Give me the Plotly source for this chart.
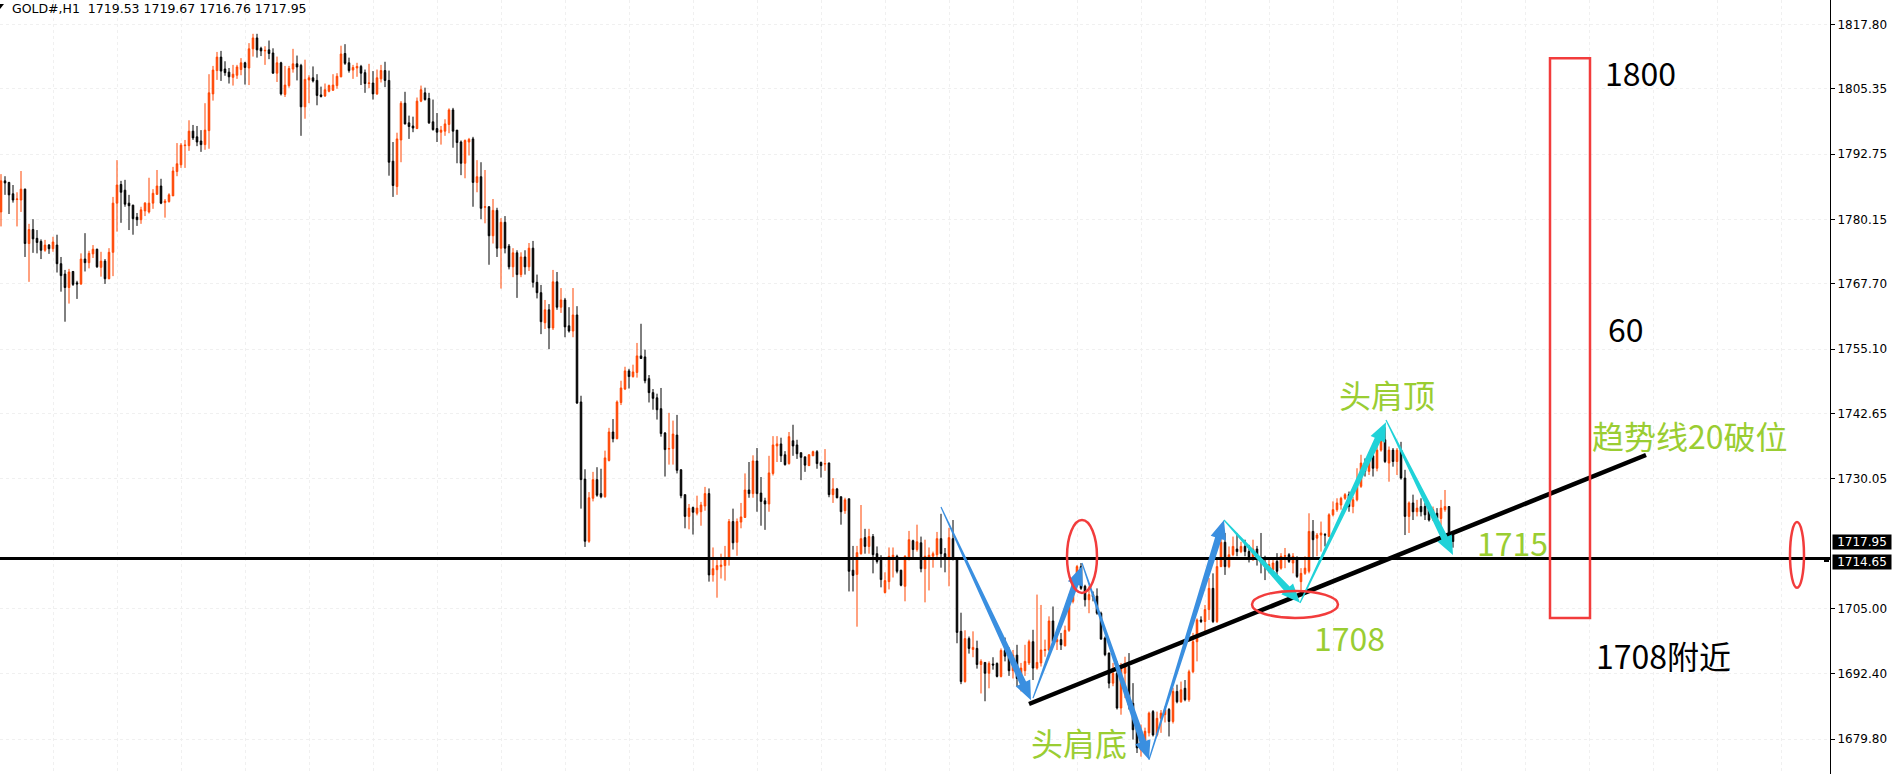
import plotly.graph_objects as go

# ---------------- data (GOLD#, H1) ----------------
open_ = [
    1781.6, 1787.6, 1787.3, 1785.1, 1784.0, 1783.9, 1786.0, 1775.5, 1778.2, 1776.5,
    1775.9, 1774.2, 1775.2, 1774.5, 1775.2, 1771.6, 1769.6, 1767.0, 1770.1, 1767.9,
    1767.7, 1772.5, 1771.8, 1773.5, 1774.4, 1770.9, 1772.1, 1768.7, 1773.8, 1783.3,
    1786.9, 1785.8, 1783.3, 1782.9, 1780.6, 1780.1, 1781.8, 1781.6, 1783.3, 1785.0,
    1786.6, 1783.4, 1783.6, 1784.7, 1789.4, 1790.7, 1794.4, 1794.4, 1797.2, 1796.1,
    1795.3, 1794.6, 1797.3, 1804.4, 1808.9, 1811.5, 1809.2, 1808.6, 1807.6, 1808.0,
    1809.1, 1810.4, 1809.4, 1813.1, 1815.2, 1813.2, 1812.7, 1812.9, 1812.3, 1808.4,
    1810.4, 1804.3, 1806.0, 1809.2, 1810.2, 1809.9, 1801.9, 1807.1, 1807.5, 1807.0,
    1804.2, 1804.0, 1804.9, 1805.1, 1806.0, 1807.7, 1812.2, 1810.4, 1809.0, 1809.4,
    1809.7, 1808.5, 1806.4, 1806.5, 1804.4, 1807.3, 1808.9, 1807.0, 1791.4, 1786.5,
    1795.5, 1802.6, 1798.8, 1798.2, 1797.7, 1803.0, 1804.6, 1803.5, 1799.0, 1797.7,
    1797.0, 1797.2, 1798.5, 1801.3, 1797.4, 1795.1, 1791.0, 1795.1, 1795.7, 1787.3,
    1788.4, 1782.5, 1782.6, 1777.0, 1781.9, 1774.6, 1779.6, 1775.0, 1771.0, 1773.7,
    1769.5, 1772.9, 1771.0, 1774.6, 1768.0, 1766.0, 1760.2, 1762.7, 1759.2, 1768.1,
    1763.2, 1764.6, 1759.6, 1758.6, 1761.7, 1744.9, 1730.0, 1718.0, 1726.3, 1729.9,
    1727.2, 1726.6, 1733.6, 1739.1, 1737.8, 1744.8, 1747.4, 1750.9, 1749.8, 1750.6,
    1753.8, 1753.6, 1749.4, 1746.7, 1745.7, 1743.6, 1738.9, 1735.8, 1735.9, 1738.5,
    1731.8, 1727.0, 1722.8, 1724.5, 1723.4, 1723.7, 1724.8, 1727.2, 1711.5, 1712.5,
    1713.1, 1713.3, 1714.7, 1721.8, 1717.8, 1721.7, 1722.6, 1727.9, 1727.2, 1733.5,
    1727.3, 1725.8, 1725.2, 1731.1, 1736.4, 1736.8, 1734.7, 1733.0, 1737.4, 1736.6,
    1735.1, 1734.3, 1732.6, 1734.5, 1735.3, 1733.2, 1732.9, 1733.1, 1727.0, 1728.1,
    1726.6, 1723.9, 1726.2, 1712.4, 1711.6, 1715.6, 1718.7, 1717.0, 1718.9, 1715.6,
    1714.5, 1708.1, 1710.2, 1714.9, 1715.1, 1712.4, 1709.3, 1714.7, 1718.1, 1716.4,
    1717.7, 1712.7, 1714.9, 1715.1, 1715.4, 1718.5, 1715.6, 1714.5, 1718.5, 1714.7,
    1700.6, 1690.9, 1699.2, 1697.1, 1697.3, 1694.2, 1694.6, 1692.5, 1694.3, 1694.4,
    1691.9, 1696.9, 1695.8, 1693.0, 1696.0, 1691.5, 1693.0, 1694.5, 1698.6, 1693.5,
    1694.5, 1696.9, 1697.0, 1702.6, 1698.6, 1699.0, 1697.8, 1700.8, 1706.4, 1709.9,
    1713.1, 1709.3, 1706.7, 1707.7, 1707.4, 1704.1, 1699.3, 1696.4, 1690.6, 1692.5,
    1685.8, 1692.5, 1693.8, 1686.7, 1681.9, 1677.7, 1678.1, 1681.0, 1685.1, 1680.6,
    1683.8, 1684.5, 1685.5, 1683.2, 1689.0, 1687.0, 1689.6, 1687.4, 1692.8, 1698.6,
    1702.8, 1702.5, 1704.8, 1708.9, 1702.5, 1713.1, 1717.8, 1713.1, 1715.4, 1716.5,
    1716.0, 1717.0, 1716.0, 1714.9, 1716.5, 1714.6, 1713.9, 1712.5, 1712.5, 1714.1,
    1712.8, 1715.1, 1715.4, 1713.8, 1714.4, 1710.2, 1711.8, 1712.2, 1719.9, 1718.6,
    1719.2, 1719.3, 1718.9, 1723.1, 1724.1, 1725.0, 1726.3, 1727.0, 1724.7, 1726.0,
    1728.6, 1733.1, 1731.5, 1734.5, 1732.1, 1735.6, 1737.6, 1733.1, 1735.6, 1733.4,
    1735.6, 1730.2, 1722.8, 1725.4, 1723.7, 1724.7, 1724.7, 1724.1, 1722.4, 1723.4,
    1722.4, 1724.1, 1724.7, 1719.53,
]
high = [
    1788.9, 1788.5, 1787.4, 1786.8, 1785.4, 1789.5, 1786.1, 1779.3, 1780.2, 1778.1,
    1776.3, 1776.2, 1775.4, 1776.8, 1777.2, 1772.9, 1770.4, 1770.6, 1770.2, 1768.3,
    1773.6, 1777.5, 1774.1, 1775.2, 1774.5, 1773.9, 1772.5, 1774.6, 1784.5, 1791.6,
    1787.6, 1787.8, 1784.9, 1783.0, 1781.4, 1782.6, 1783.5, 1788.2, 1786.0, 1789.7,
    1788.0, 1784.1, 1785.2, 1790.3, 1794.9, 1794.9, 1795.5, 1799.3, 1798.4, 1798.2,
    1797.4, 1802.6, 1808.2, 1809.8, 1812.5, 1812.7, 1810.7, 1809.4, 1810.0, 1810.0,
    1811.3, 1810.6, 1814.2, 1816.0, 1816.0, 1813.5, 1813.6, 1814.7, 1813.2, 1811.6,
    1810.6, 1809.8, 1809.8, 1813.1, 1811.8, 1810.2, 1811.0, 1808.0, 1809.7, 1808.2,
    1805.8, 1806.4, 1806.2, 1808.2, 1808.4, 1813.7, 1814.0, 1811.4, 1810.0, 1810.4,
    1810.0, 1809.1, 1810.2, 1808.8, 1809.1, 1810.0, 1810.6, 1808.9, 1795.1, 1796.9,
    1803.0, 1804.8, 1800.2, 1800.0, 1803.7, 1806.0, 1805.6, 1804.6, 1803.3, 1800.7,
    1798.2, 1799.5, 1801.6, 1801.7, 1797.4, 1795.4, 1795.6, 1795.9, 1796.1, 1791.6,
    1791.2, 1789.7, 1782.7, 1784.1, 1782.4, 1780.4, 1780.8, 1775.4, 1774.6, 1774.2,
    1773.8, 1774.2, 1775.6, 1776.0, 1769.5, 1767.5, 1764.6, 1763.8, 1770.4, 1770.0,
    1766.9, 1765.0, 1763.2, 1766.9, 1763.4, 1746.1, 1731.9, 1727.5, 1731.4, 1732.3,
    1732.0, 1735.5, 1739.9, 1741.6, 1745.2, 1749.0, 1751.7, 1751.3, 1752.1, 1756.3,
    1760.0, 1755.0, 1750.1, 1747.4, 1746.5, 1747.6, 1739.1, 1742.8, 1741.3, 1742.4,
    1731.9, 1727.0, 1725.2, 1724.7, 1726.8, 1725.6, 1728.5, 1728.2, 1716.8, 1714.8,
    1715.6, 1717.1, 1722.3, 1724.3, 1722.4, 1725.4, 1731.1, 1733.3, 1734.6, 1736.0,
    1730.4, 1726.4, 1734.5, 1738.3, 1738.3, 1738.0, 1735.4, 1739.1, 1740.5, 1737.6,
    1735.1, 1734.3, 1734.8, 1735.5, 1735.6, 1733.4, 1735.8, 1733.2, 1730.2, 1728.3,
    1726.6, 1726.4, 1726.2, 1717.1, 1717.1, 1725.0, 1720.4, 1720.4, 1719.4, 1717.0,
    1715.3, 1712.0, 1716.8, 1716.8, 1715.4, 1712.5, 1715.3, 1720.0, 1718.3, 1721.2,
    1718.9, 1718.3, 1716.8, 1716.0, 1719.8, 1723.3, 1716.7, 1720.6, 1722.1, 1714.7,
    1704.2, 1700.8, 1699.6, 1700.6, 1698.8, 1695.2, 1694.6, 1694.8, 1695.6, 1694.6,
    1697.3, 1699.4, 1697.5, 1697.0, 1698.0, 1694.5, 1698.0, 1699.0, 1700.9, 1707.7,
    1705.7, 1699.0, 1703.5, 1705.4, 1700.6, 1700.3, 1701.7, 1707.7, 1710.5, 1713.4,
    1713.8, 1709.6, 1709.3, 1708.3, 1708.9, 1704.4, 1699.6, 1696.5, 1694.5, 1694.8,
    1694.5, 1695.7, 1696.4, 1690.6, 1682.9, 1682.6, 1682.0, 1685.1, 1685.4, 1685.1,
    1685.4, 1686.1, 1685.8, 1689.7, 1690.3, 1690.9, 1691.2, 1693.2, 1700.3, 1703.1,
    1703.5, 1705.7, 1710.9, 1711.8, 1714.7, 1719.2, 1719.6, 1717.0, 1718.9, 1719.6,
    1717.9, 1718.3, 1717.3, 1718.3, 1717.1, 1719.6, 1715.2, 1714.4, 1714.4, 1715.7,
    1715.7, 1716.7, 1715.7, 1715.7, 1715.1, 1712.8, 1715.1, 1723.4, 1722.1, 1719.6,
    1721.8, 1719.6, 1723.4, 1725.7, 1726.3, 1726.6, 1727.3, 1727.6, 1726.6, 1732.1,
    1734.7, 1734.0, 1735.2, 1736.0, 1736.3, 1738.9, 1740.0, 1736.3, 1736.0, 1736.0,
    1737.2, 1731.8, 1725.7, 1727.0, 1726.0, 1726.3, 1725.4, 1724.7, 1724.7, 1724.4,
    1726.0, 1727.9, 1724.8, 1719.67,
]
low = [
    1778.8, 1784.9, 1781.2, 1783.4, 1778.8, 1781.6, 1772.9, 1768.1, 1773.7, 1773.6,
    1772.5, 1773.9, 1773.5, 1773.9, 1769.9, 1766.2, 1760.4, 1763.9, 1767.3, 1764.8,
    1767.5, 1770.1, 1770.7, 1772.7, 1770.8, 1769.1, 1767.7, 1768.6, 1769.2, 1777.8,
    1779.5, 1782.6, 1778.1, 1777.2, 1778.9, 1779.3, 1780.8, 1781.3, 1782.2, 1784.9,
    1783.1, 1780.5, 1783.4, 1784.7, 1788.5, 1790.1, 1790.1, 1793.4, 1795.5, 1794.3,
    1793.2, 1793.6, 1793.8, 1803.1, 1807.1, 1806.9, 1807.9, 1806.4, 1806.0, 1807.3,
    1808.0, 1806.2, 1806.1, 1811.6, 1811.4, 1811.7, 1810.0, 1811.1, 1808.3, 1806.7,
    1804.1, 1803.8, 1805.6, 1808.5, 1807.0, 1796.3, 1799.6, 1802.6, 1806.6, 1802.2,
    1803.7, 1803.8, 1804.7, 1805.0, 1805.4, 1807.6, 1810.0, 1808.5, 1807.3, 1807.7,
    1806.1, 1804.6, 1805.5, 1803.3, 1804.2, 1806.6, 1805.7, 1788.6, 1784.5, 1784.9,
    1791.2, 1798.5, 1795.7, 1797.0, 1797.6, 1802.8, 1803.1, 1798.6, 1797.3, 1795.1,
    1794.6, 1796.3, 1796.8, 1794.0, 1791.0, 1788.7, 1788.1, 1792.5, 1782.6, 1785.4,
    1780.2, 1779.4, 1771.4, 1775.5, 1772.9, 1766.8, 1773.6, 1770.5, 1769.0, 1765.0,
    1769.0, 1769.5, 1770.2, 1767.0, 1764.9, 1758.0, 1759.0, 1755.1, 1758.8, 1762.7,
    1762.1, 1757.4, 1758.3, 1757.4, 1744.5, 1724.3, 1716.9, 1717.7, 1725.7, 1726.6,
    1726.3, 1726.4, 1733.4, 1737.1, 1737.7, 1744.3, 1747.2, 1747.5, 1749.6, 1749.6,
    1753.2, 1748.5, 1744.8, 1743.4, 1741.5, 1738.2, 1730.5, 1732.8, 1732.8, 1731.1,
    1726.3, 1720.5, 1720.3, 1719.3, 1723.0, 1721.0, 1723.9, 1710.2, 1710.2, 1707.1,
    1710.8, 1710.4, 1713.3, 1716.4, 1715.2, 1720.5, 1722.5, 1726.4, 1726.4, 1723.7,
    1721.0, 1720.2, 1723.7, 1730.7, 1733.3, 1733.3, 1732.6, 1732.8, 1734.5, 1733.9,
    1729.8, 1731.4, 1732.6, 1734.5, 1732.0, 1730.3, 1731.6, 1726.5, 1725.4, 1726.3,
    1721.2, 1723.3, 1708.3, 1708.3, 1701.5, 1715.4, 1715.6, 1715.6, 1711.8, 1713.7,
    1709.1, 1707.9, 1708.7, 1711.0, 1711.8, 1709.3, 1706.4, 1714.3, 1714.7, 1716.0,
    1712.0, 1706.2, 1708.5, 1712.9, 1714.7, 1712.9, 1712.0, 1709.3, 1714.3, 1698.3,
    1690.4, 1690.7, 1696.3, 1695.6, 1693.4, 1688.6, 1687.1, 1689.6, 1693.2, 1691.7,
    1691.7, 1694.8, 1692.0, 1691.5, 1690.0, 1689.0, 1692.0, 1694.1, 1691.2, 1693.2,
    1693.8, 1695.7, 1696.7, 1698.3, 1697.0, 1697.0, 1697.7, 1700.5, 1706.0, 1709.6,
    1708.6, 1705.4, 1704.1, 1706.4, 1703.8, 1699.0, 1695.8, 1689.6, 1690.0, 1685.5,
    1684.5, 1687.7, 1685.5, 1679.7, 1677.1, 1676.4, 1677.5, 1680.3, 1680.3, 1680.3,
    1681.0, 1683.0, 1680.3, 1682.8, 1686.7, 1686.8, 1687.1, 1687.0, 1692.5, 1694.8,
    1702.2, 1700.3, 1702.8, 1702.2, 1702.2, 1713.0, 1711.5, 1712.8, 1715.1, 1715.1,
    1715.7, 1715.1, 1713.9, 1714.2, 1713.3, 1711.8, 1710.5, 1711.8, 1711.2, 1711.2,
    1712.5, 1712.8, 1713.8, 1711.8, 1710.9, 1708.0, 1711.5, 1711.8, 1714.4, 1715.1,
    1716.0, 1717.0, 1718.9, 1722.8, 1723.7, 1724.1, 1726.0, 1723.7, 1723.4, 1725.7,
    1728.3, 1730.5, 1730.8, 1730.5, 1731.5, 1735.3, 1733.1, 1729.5, 1732.4, 1730.8,
    1729.9, 1719.2, 1719.6, 1722.1, 1722.8, 1722.8, 1722.1, 1721.8, 1721.9, 1721.5,
    1720.8, 1723.7, 1718.9, 1716.76,
]
close = [
    1787.6, 1787.2, 1784.9, 1783.9, 1784.1, 1786.0, 1775.5, 1778.2, 1776.4, 1775.7,
    1774.2, 1775.2, 1774.5, 1775.8, 1771.6, 1769.3, 1767.0, 1770.0, 1767.6, 1767.7,
    1772.5, 1771.8, 1773.6, 1774.4, 1771.0, 1772.1, 1768.7, 1773.8, 1783.3, 1786.8,
    1785.4, 1783.1, 1782.8, 1780.3, 1780.1, 1782.0, 1783.3, 1783.3, 1785.2, 1786.6,
    1783.3, 1783.7, 1784.9, 1789.5, 1790.9, 1794.5, 1794.5, 1797.2, 1795.9, 1795.1,
    1794.6, 1797.4, 1804.6, 1809.0, 1811.5, 1808.8, 1808.5, 1807.7, 1808.2, 1809.6,
    1810.4, 1809.5, 1813.1, 1815.2, 1812.9, 1812.7, 1812.8, 1812.2, 1808.4, 1810.4,
    1804.4, 1806.1, 1809.3, 1810.2, 1809.6, 1801.9, 1807.2, 1807.5, 1806.9, 1804.1,
    1803.9, 1805.2, 1806.0, 1806.1, 1807.8, 1812.1, 1810.3, 1808.9, 1809.5, 1809.7,
    1808.4, 1806.4, 1806.5, 1804.4, 1807.5, 1808.9, 1807.0, 1791.2, 1786.7, 1795.7,
    1802.6, 1798.6, 1798.1, 1797.8, 1803.0, 1805.2, 1803.3, 1798.8, 1797.5, 1797.0,
    1797.4, 1798.6, 1801.3, 1797.2, 1795.0, 1791.0, 1795.4, 1795.6, 1787.3, 1788.4,
    1782.3, 1782.6, 1777.0, 1781.9, 1774.6, 1779.6, 1774.6, 1771.0, 1773.7, 1769.5,
    1772.9, 1771.0, 1774.6, 1768.0, 1766.0, 1760.4, 1762.7, 1759.2, 1768.1, 1763.2,
    1764.6, 1759.4, 1758.6, 1761.7, 1744.7, 1729.9, 1718.0, 1726.4, 1729.9, 1726.9,
    1726.6, 1734.1, 1739.1, 1737.8, 1744.9, 1747.6, 1750.9, 1749.8, 1750.7, 1753.8,
    1753.3, 1749.0, 1746.7, 1745.6, 1743.4, 1738.8, 1735.7, 1735.9, 1738.7, 1731.7,
    1726.8, 1722.8, 1724.4, 1723.6, 1724.4, 1725.0, 1727.2, 1711.5, 1712.7, 1713.3,
    1713.4, 1714.8, 1721.8, 1717.7, 1721.8, 1722.7, 1727.9, 1727.2, 1733.5, 1727.2,
    1725.7, 1725.2, 1731.2, 1736.6, 1736.8, 1734.5, 1732.8, 1738.2, 1736.4, 1734.9,
    1734.2, 1732.7, 1734.7, 1735.3, 1733.0, 1732.6, 1733.0, 1727.0, 1728.1, 1726.4,
    1723.7, 1726.0, 1712.2, 1711.4, 1715.8, 1718.5, 1717.0, 1718.9, 1715.4, 1714.1,
    1710.6, 1710.4, 1715.1, 1715.3, 1712.2, 1709.5, 1715.1, 1718.3, 1716.4, 1717.9,
    1712.7, 1715.1, 1715.3, 1715.6, 1718.5, 1715.6, 1714.7, 1718.7, 1714.5, 1700.4,
    1690.9, 1699.2, 1697.3, 1697.5, 1694.2, 1694.8, 1692.5, 1694.4, 1694.1, 1691.9,
    1696.9, 1695.8, 1693.0, 1696.0, 1691.5, 1693.5, 1694.8, 1698.6, 1693.5, 1694.6,
    1697.0, 1697.1, 1702.6, 1698.6, 1699.0, 1698.0, 1700.8, 1706.4, 1709.9, 1713.1,
    1708.9, 1706.7, 1707.7, 1707.3, 1704.1, 1699.1, 1696.1, 1690.6, 1692.5, 1685.8,
    1693.5, 1693.8, 1686.4, 1681.6, 1678.1, 1679.3, 1681.3, 1684.8, 1680.6, 1683.8,
    1684.8, 1685.5, 1683.2, 1689.0, 1687.0, 1689.3, 1687.4, 1692.8, 1698.6, 1702.8,
    1702.5, 1704.8, 1708.9, 1702.5, 1713.1, 1717.8, 1713.1, 1715.4, 1717.0, 1716.0,
    1717.0, 1716.0, 1714.9, 1716.5, 1714.6, 1713.9, 1713.1, 1713.5, 1713.8, 1712.2,
    1715.1, 1715.2, 1714.1, 1715.1, 1711.2, 1711.8, 1712.8, 1719.9, 1718.3, 1719.2,
    1719.6, 1719.2, 1723.1, 1724.1, 1725.4, 1726.3, 1727.0, 1724.7, 1726.0, 1728.6,
    1733.1, 1731.5, 1734.5, 1732.1, 1735.6, 1737.6, 1733.4, 1735.6, 1733.4, 1735.6,
    1730.2, 1722.8, 1725.4, 1723.7, 1724.4, 1723.7, 1723.1, 1722.1, 1724.1, 1722.4,
    1724.4, 1724.7, 1719.2, 1717.95,
]

price_ticks = [1817.80, 1805.35, 1792.75, 1780.15, 1767.70, 1755.10,
               1742.65, 1730.05, 1705.00, 1692.40, 1679.80]
symbol = "GOLD#,H1"
last_ohlc = [1719.53, 1719.67, 1716.76, 1717.95]
support_level = 1714.65

# ---------------- geometry helpers ----------------
W, H = 1893, 774
PW = 1830                      # plot width in px (axis line at right)
X0, X1 = -0.25, -0.25 + PW / 4.0
Y0, Y1 = 1673.05, 1822.53

def to_px(x, y):
    return (x - X0) / (X1 - X0) * PW, (Y1 - y) / (Y1 - Y0) * H

def to_data(px, py):
    return X0 + px / PW * (X1 - X0), Y1 - py / H * (Y1 - Y0)

def arrow_path(xa, ya, xb, yb, w0=0.6, w1=3.4, hw=8.0, hl=19.0):
    ax, ay = to_px(xa, ya)
    bx, by = to_px(xb, yb)
    dx, dy = bx - ax, by - ay
    L = (dx * dx + dy * dy) ** 0.5
    ux, uy = dx / L, dy / L
    nx, ny = -uy, ux
    cx, cy = bx - ux * hl, by - uy * hl
    pts = [(ax + nx * w0, ay + ny * w0), (cx + nx * w1, cy + ny * w1),
           (cx + nx * hw, cy + ny * hw), (bx, by),
           (cx - nx * hw, cy - ny * hw), (cx - nx * w1, cy - ny * w1),
           (ax - nx * w0, ay - ny * w0)]
    d = [to_data(px, py) for px, py in pts]
    return "M " + " L ".join(f"{x:.4f},{y:.4f}" for x, y in d) + " Z"

idx = list(range(len(open_)))

fig = go.Figure()
fig.add_trace(go.Candlestick(
    x=idx, open=open_, high=high, low=low, close=close,
    increasing=dict(line=dict(color="#FF4500", width=1), fillcolor="#FF4500"),
    decreasing=dict(line=dict(color="#000000", width=1), fillcolor="#000000"),
    whiskerwidth=0, hoverinfo="skip", showlegend=False,
))

shapes = []
RED = "#F23C3C"
BLUE = "#3A8FE0"
CYAN = "#20D2D8"
GREEN = "#9ACD32"

# horizontal level line
shapes.append(dict(type="line", xref="paper", x0=0, x1=1, yref="y",
                   y0=support_level, y1=support_level,
                   line=dict(color="black", width=3)))
# small marker at the axis end
mx0, my0 = to_data(1824, 557)
mx1, my1 = to_data(1829, 562)
shapes.append(dict(type="rect", xref="x", yref="y", x0=mx0, x1=mx1, y0=my0, y1=my1,
                   fillcolor="black", line=dict(width=0)))

# trend line
shapes.append(dict(type="line", xref="x", yref="y", x0=257.0, y0=1686.57,
                   x1=411.25, y1=1734.66, line=dict(color="black", width=4.5)))

# pattern arrows
blue_arrows = [
    (235.0, 1724.6, 257.5, 1687.3),
    (258.0, 1687.7, 270.25, 1713.2),
    (270.25, 1713.8, 287.0, 1675.8),
    (287.0, 1675.8, 305.75, 1722.1),
]
cyan_arrows = [
    (305.75, 1722.1, 324.75, 1706.1),
    (324.75, 1706.1, 346.25, 1741.0),
    (346.25, 1741.4, 363.0, 1715.35),
]
for a in blue_arrows:
    shapes.append(dict(type="path", xref="x", yref="y", path=arrow_path(*a),
                       fillcolor=BLUE, line=dict(width=0)))
for a in cyan_arrows:
    shapes.append(dict(type="path", xref="x", yref="y", path=arrow_path(*a),
                       fillcolor=CYAN, line=dict(width=0)))

# red ellipses and box
for (x0, x1, y0, y1) in [(266.5, 274.0, 1708.0, 1722.1),
                         (312.75, 334.25, 1703.2, 1708.4),
                         (447.25, 450.75, 1709.0, 1721.7)]:
    shapes.append(dict(type="circle", xref="x", yref="y", x0=x0, x1=x1, y0=y0, y1=y1,
                       line=dict(color=RED, width=2.5)))
shapes.append(dict(type="rect", xref="x", yref="y", x0=387.25, x1=397.25,
                   y0=1703.2, y1=1811.3, line=dict(color=RED, width=2.5)))

# tiny corner marker
tx = [to_data(0, 4), to_data(4, 4), to_data(0, 9)]
shapes.append(dict(type="path", xref="x", yref="y",
                   path="M " + " L ".join(f"{a:.4f},{b:.4f}" for a, b in tx) + " Z",
                   fillcolor="black", line=dict(width=0)))

CJK = "Noto Sans CJK SC"
annotations = []
def label(text, x, y, color, size=32):
    annotations.append(dict(text=text, x=x, y=y, xref="x", yref="y", showarrow=False,
                            xanchor="center", yanchor="middle",
                            font=dict(family=CJK, size=size, color=color)))

label("1800", 409.75, 1808.6, "black")
label("60", 406.25, 1759.2, "black")
label("1708附近", 415.5, 1696.0, "black")
label("头肩顶", 346.5, 1746.4, GREEN)
label("趋势线20破位", 422.25, 1738.5, GREEN)
label("1715", 377.75, 1717.8, GREEN)
label("1708", 337.0, 1699.5, GREEN)
label("头肩底", 269.5, 1679.2, GREEN)

# title
title_text = symbol + "\u00a0\u00a0" + " ".join(f"{v:.2f}" for v in last_ohlc)
annotations.append(dict(text=title_text, xref="paper", yref="paper",
                        x=10 / PW, y=1 - 8.5 / H, xanchor="left", yanchor="middle",
                        showarrow=False,
                        font=dict(family="DejaVu Sans", size=12.5, color="black")))

# price boxes on the axis
for val, ys in [(last_ohlc[3], 0), (support_level, -3)]:
    annotations.append(dict(text=f"{val:.2f}", xref="paper", yref="y", x=1, y=val,
                            xanchor="left", yanchor="middle", xshift=2, yshift=ys,
                            showarrow=False, bgcolor="black", width=58, height=14,
                            borderpad=0,
                            font=dict(family="DejaVu Sans", size=12, color="white")))

fig.update_layout(
    width=W, height=H,
    margin=dict(l=0, r=W - PW, t=0, b=0, pad=0),
    paper_bgcolor="white", plot_bgcolor="white",
    showlegend=False, boxgap=0.45,
    shapes=shapes, annotations=annotations,
    xaxis=dict(range=[X0, X1], rangeslider=dict(visible=False),
               showticklabels=False, ticks="", zeroline=False, showline=False,
               showgrid=True, gridcolor="#f0f0f0", griddash="dot", gridwidth=1,
               tickmode="array", tickvals=list(range(13, 458, 16)),
               fixedrange=True, automargin=False),
    yaxis=dict(range=[Y0, Y1], side="right", tickmode="array",
               tickvals=price_ticks, ticktext=[f"{v:.2f}" for v in price_ticks],
               ticks="outside", ticklen=4, tickcolor="black",
               showline=True, linecolor="black", linewidth=1,
               showgrid=True, gridcolor="#f0f0f0", griddash="dot", gridwidth=1,
               zeroline=False, automargin=False, fixedrange=True,
               tickfont=dict(family="DejaVu Sans", size=12, color="black")),
)

fig.write_html(
    "out.html",
    config={"displayModeBar": False},
    post_script="document.body.style.margin='0';document.body.style.overflow='hidden';",
)
